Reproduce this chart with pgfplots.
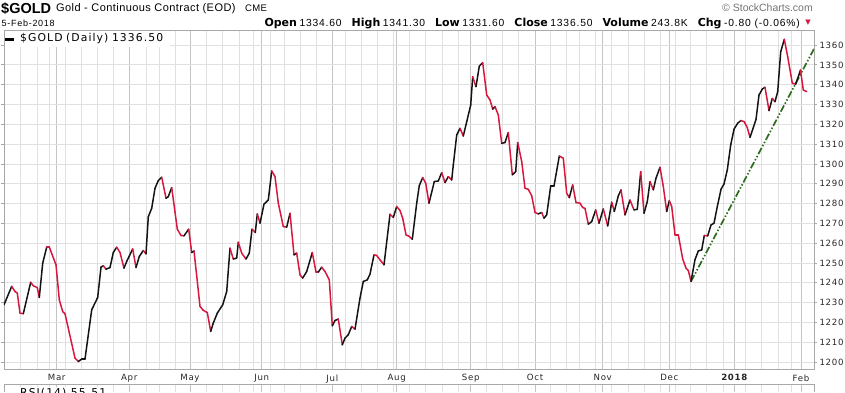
\documentclass[border=0pt]{standalone}
\usepackage{fontspec}
\setmainfont{Liberation Sans}
\newfontfamily\dvs{DejaVu Sans}
\newfontfamily\dvsl{DejaVu Sans}[LetterSpace=8]
\newfontfamily\legfont{DejaVu Sans}[LetterSpace=10]
\newfontfamily\lsA{Liberation Sans}[LetterSpace=4]
\newfontfamily\lsB{Liberation Sans}[LetterSpace=8]
\usepackage{pgfplots}
\pgfplotsset{compat=1.18}
\usepackage{pgfplotstable}
\definecolor{downred}{HTML}{D8173E}
\definecolor{trendgreen}{HTML}{2E6B1E}
\definecolor{framegray}{HTML}{A8A8A8}
\definecolor{majgrid}{HTML}{C4C4C4}
\definecolor{mingrid}{HTML}{E0E0E0}

% x = time position (trading-day scale), y = close, c = 1 if the next close is lower (red), 0 if higher (black)
\pgfplotstableread{
x y c
4 1228.9 0
11.7 1238.2 1
15 1235.6 1
17.3 1234.8 1
20 1224.7 1
23.3 1224.4 0
30.7 1240.3 1
33.3 1238.5 1
37.3 1237.6 1
39.3 1232.6 0
42.7 1249.9 0
46.7 1258.0 1
49.3 1258.0 1
56 1249.1 1
59.3 1231.4 1
62.7 1225.5 1
65 1224.4 1
75 1202.0 1
78.3 1200.3 0
81.7 1201.5 0
85 1201.5 0
91.7 1226.4 0
97.7 1232.6 0
101 1247.9 0
103.3 1248.6 1
106 1246.9 0
110 1247.7 0
113.3 1255.3 0
116.7 1258.0 1
120 1255.3 1
124 1247.4 0
126.7 1250.8 0
132.7 1257.1 1
136 1247.7 0
139.3 1253.3 0
143.3 1256.3 1
146 1254.6 0
148.3 1273.4 0
151.7 1277.6 0
155 1287.7 0
158.3 1291.6 0
161.7 1293.3 1
166 1282.7 0
168.3 1283.5 0
171.7 1288.1 1
177.3 1267.1 1
181 1263.9 1
184 1263.7 0
188.7 1267.1 1
191.7 1255.3 0
194 1256.1 1
200 1228.1 1
203.3 1226.1 1
207.3 1225.0 1
210.7 1215.5 0
213.3 1219.7 0
217.3 1224.7 0
222.7 1228.9 0
226.7 1235.6 0
230 1257.5 1
233.3 1252.0 0
236.7 1252.5 0
238.3 1260.5 1
241.7 1255.0 1
246 1252.0 0
249.3 1255.0 0
252 1267.1 1
255.3 1265.4 0
257.3 1274.8 1
260 1270.1 0
264 1279.7 0
268.3 1281.8 0
271.7 1296.5 1
275 1293.6 1
278.3 1280.2 1
283.3 1268.4 1
286.7 1268.1 0
290 1275.1 1
294 1254.1 0
296.7 1255.0 1
300 1244.0 1
302.7 1242.4 0
306.7 1245.7 0
312.3 1255.3 1
316 1245.4 1
318.3 1245.4 0
321.7 1247.9 1
325 1245.7 1
329.3 1241.5 1
332.3 1218.3 0
335 1221.0 0
338.3 1221.7 1
342.3 1208.7 0
345 1212.1 0
348.3 1213.8 0
351.7 1218.0 1
355 1216.6 0
360 1232.3 0
363.3 1240.7 0
367.3 1241.5 0
370 1244.4 0
374 1254.1 1
376.7 1253.8 1
380 1251.6 1
384 1249.1 0
390 1274.6 1
393.3 1273.0 0
396.7 1278.5 1
400 1276.5 1
402.7 1272.6 1
406 1264.2 1
409.3 1263.4 1
412.3 1262.0 0
416.7 1280.2 0
419.3 1289.1 0
422.7 1293.1 1
425.7 1290.3 1
429 1280.2 0
434.3 1291.1 0
438.3 1291.4 0
441.7 1295.6 1
445 1290.6 0
448.3 1293.6 1
451.7 1291.9 0
453.3 1299.5 0
456.7 1314.6 0
460 1318.0 1
463.3 1314.1 0
466.7 1321.3 0
470.7 1329.7 0
472.7 1344.0 1
476 1339.0 0
479.3 1349.4 0
482.7 1351.1 1
486.7 1334.8 1
490 1332.3 1
492.7 1327.7 0
495 1328.9 1
498.3 1324.7 1
501.7 1310.4 0
505 1310.8 0
508.3 1315.8 1
512.3 1294.5 0
515.7 1296.1 0
517.7 1310.8 1
521.7 1301.2 1
525 1287.7 1
528.3 1287.2 1
531.7 1283.9 1
535 1275.5 1
538.3 1274.8 0
541.7 1275.5 1
544 1272.6 0
546.7 1274.3 0
550.7 1288.9 0
554 1288.9 0
559.3 1304.0 1
563.3 1302.9 1
566.7 1285.2 1
569.3 1283.0 0
572.7 1289.4 1
576 1280.5 1
580 1280.2 1
582.7 1278.0 1
585 1277.6 1
588.3 1269.6 0
591.7 1270.9 0
595.7 1276.8 1
599 1270.1 0
603.3 1277.3 1
607.7 1268.7 0
611.7 1280.7 1
614.3 1276.0 0
618.3 1283.9 0
621 1286.9 1
625 1274.3 0
630 1281.8 1
634 1276.8 0
637.3 1277.1 0
640.7 1296.1 1
644 1275.1 0
647.3 1281.0 0
650 1291.1 1
653.3 1286.9 0
656 1292.8 0
660 1298.3 1
663.3 1288.6 1
666.7 1276.0 0
669.3 1281.5 1
671.7 1278.5 1
675 1264.2 1
678.3 1264.2 1
682.7 1252.0 1
686 1247.4 1
688.3 1246.2 1
691 1240.7 0
695 1251.7 0
698.3 1256.1 0
701.7 1256.6 0
704.3 1263.9 1
707.7 1263.7 0
711 1269.2 0
714 1270.1 0
717.3 1278.5 0
721 1287.2 0
724 1289.9 0
727.3 1297.0 0
730.7 1309.6 0
734 1317.5 0
737.7 1320.6 0
741 1321.9 1
744.3 1321.3 1
747.3 1318.3 1
750 1313.4 0
752.7 1317.5 0
756 1322.5 0
759 1334.8 0
762.3 1337.8 0
765 1338.7 1
769 1326.9 0
772.3 1333.1 1
775 1331.4 0
777.7 1336.5 0
780.7 1356.6 0
784.3 1362.9 1
787.7 1354.1 1
792.3 1340.7 1
795.7 1340.3 0
800.5 1347.4 1
803.3 1337.3 1
806.7 1336.5 1
}\golddata

\pgfplotsset{
  commongrid/.style={
    scale only axis, width=810pt,
    xmin=4, xmax=814,
    xtick={56.7,129.3,190,261.7,332.3,396.7,470.7,535,602.7,669.3,734.3,801},
    minor xtick={20.7,37.3,49.3,65.7,81.7,97.7,113.3,146,159.3,175,206.7,222.7,239.3,253.3,270,284.5,300,316.7,345,361.7,377.7,393.3,409.3,425.7,442.3,458.3,486.7,502.7,518.3,550,566,579.3,595,611.7,628.3,644,660,675,690.7,706.7,723.3,745,761.7,778.3,791},
    xmajorgrids, xminorgrids,
    major grid style={majgrid, line width=0.8pt},
    minor grid style={mingrid, line width=0.8pt},
    xtick style={draw=none},
    minor tick length=0pt,
  }
}

\newcommand{\lab}[1]{{\dvs\bfseries\fontsize{11}{12}\selectfont #1}\hspace{2.5pt}}
\newcommand{\gap}{\hspace{10pt}}

\begin{document}
\begin{tikzpicture}
\path[use as bounding box] (0pt,0pt) rectangle (845pt,392pt);

% price panel
\begin{axis}[
  commongrid,
  at={(4pt,23pt)}, anchor=south west, height=339pt,
  axis line style={framegray, line width=0.8pt},
  ymin=1196.5, ymax=1367.6,
  ytick={1200,1210,...,1360},
  minor ytick={1200,1210,...,1360},
  yminorgrids, ymajorgrids=false,
  yticklabel pos=right,
  tick align=outside,
  major tick length=3pt,
  ytick style={framegray, line width=0.8pt},
  xticklabels={Mar,Apr,May,Jun,Jul,Aug,Sep,Oct,Nov,Dec,{\bfseries 2018},Feb},
  /pgf/number format/assume math mode=true,
  /pgf/number format/1000 sep={},
  yticklabel style={font=\dvsl\fontsize{8.6}{10}\selectfont, text=black!85, xshift=-1pt},
  xticklabel style={font=\dvsl\fontsize{8.6}{10}\selectfont, text=black!85, yshift=1pt},
]
\addplot[trendgreen, line width=1.7pt, dash pattern=on 7pt off 2pt on 1.5pt off 2pt on 1.5pt off 2pt]
  coordinates {(691,1240.7) (814,1358.1)};
\addplot[mesh, shader=flat corner, point meta=explicit, point meta min=0, point meta max=1,
  colormap={updown}{color=(black!92) color=(downred)},
  line width=1.5pt, line join=round, line cap=round]
  table[x=x, y=y, meta=c] {\golddata};
\end{axis}

% indicator panel (only its top strip is visible)
\begin{axis}[
  commongrid,
  at={(4pt,8pt)}, anchor=north west, height=8pt,
  axis line style={draw=none},
  ymin=0, ymax=100, ytick=\empty,
  xticklabels={},
]
\end{axis}
\draw[framegray, line width=0.8pt] (4pt,0pt) -- (4pt,8pt) -- (814pt,8pt) -- (814pt,0pt);

% header
\node[anchor=base west, inner sep=0, font=\bfseries\fontsize{14.5}{16}\selectfont] at (1pt,378pt) {\$GOLD};
\node[anchor=base west, inner sep=0, font=\lsA\fontsize{11}{12}\selectfont] at (56pt,380pt) {Gold - Continuous Contract (EOD)};
\node[anchor=base west, inner sep=0, font=\lsA\fontsize{9.5}{10}\selectfont] at (245pt,380pt) {CME};
\node[anchor=base east, inner sep=0, text=black!55, font=\fontsize{10.5}{11}\selectfont] at (813pt,380pt) {\textcopyright\ StockCharts.com};
\node[anchor=base west, inner sep=0, font=\lsB\fontsize{9}{10}\selectfont] at (1.5pt,365.3pt) {5-Feb-2018};
\node[anchor=base east, inner sep=0, font=\lsB\fontsize{10.3}{11}\selectfont] at (800pt,365.3pt)
  {\lab{Open}1334.60\gap\lab{High}1341.30\gap\lab{Low}1331.60\gap\lab{Close}1336.50\gap\lab{Volume}243.8K\gap\lab{Chg}-0.80 (-0.06\%)};
\node[anchor=center, inner sep=0, text=downred, font=\dvs\fontsize{7}{8}\selectfont] at (808pt,369pt) {▼};

% legend
\node[anchor=west, fill=white, inner sep=1.5pt, minimum height=15pt, text width=148pt, font=\legfont\fontsize{10.8}{12}\selectfont] at (18.5pt,353pt) {\$GOLD (Daily) 1336.50};
\fill[white] (5pt,346pt) rectangle (19pt,360pt);
\draw[black, line width=2.2pt] (5pt,352.5pt) -- (13.5pt,352.5pt);

% indicator label, cut by the lower edge as in the original
\begin{scope}
\clip (0pt,0pt) rectangle (845pt,8pt);
\node[anchor=north west, fill=white, inner sep=1pt, font=\legfont\fontsize{10.8}{12}\selectfont] at (19pt,5pt) {RSI(14) 55.51};
\end{scope}
\end{tikzpicture}
\end{document}
